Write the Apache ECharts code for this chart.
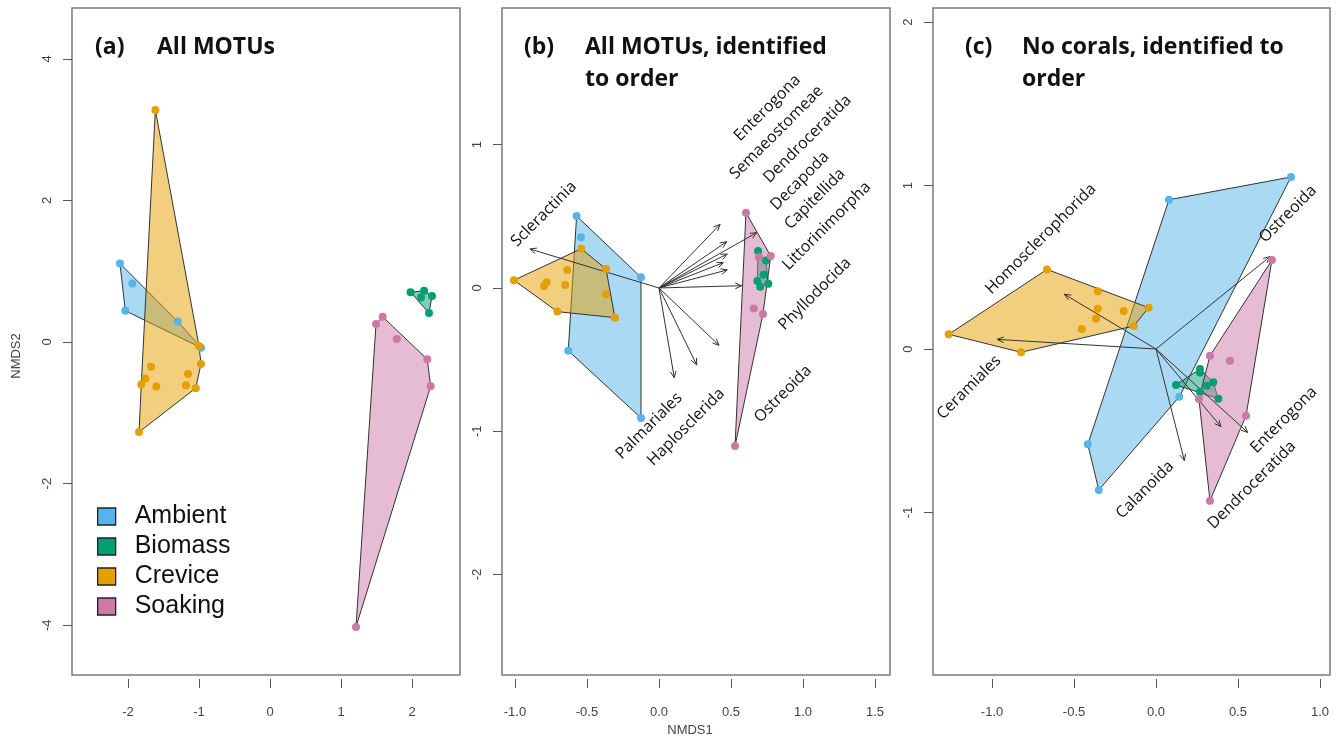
<!DOCTYPE html>
<html>
<head>
<meta charset="utf-8">
<script src="https://cdn.jsdelivr.net/npm/echarts@6/dist/echarts.min.js"></script>
<style>html,body{margin:0;padding:0;background:#fff}#chart{width:1343px;height:740px}</style>
</head>
<body>
<div id="chart"></div>
<script>
// ---------- data ----------
const groups = ['Ambient', 'Biomass', 'Crevice', 'Soaking'];
const groupColors = ['#56B4E9', '#009E73', '#E69F00', '#CC79A7'];

// Panel (a): All MOTUs
const aAmbient = [[-2.113, 1.108], [-1.939, 0.827], [-2.038, 0.441], [-0.972, -0.080], [-1.300, 0.290]];
const aBiomass = [[1.980, 0.704], [2.170, 0.722], [2.127, 0.627], [2.282, 0.648], [2.239, 0.408]];
const aCrevice = [[-1.615, 3.277], [-1.000, -0.056], [-0.972, -0.310], [-1.676, -0.348], [-1.155, -0.451], [-1.756, -0.517], [-1.813, -0.601], [-1.601, -0.630], [-1.183, -0.610], [-1.046, -0.652], [-1.845, -1.272]];
const aSoaking = [[1.587, 0.356], [1.493, 0.254], [1.785, 0.042], [2.215, -0.244], [2.263, -0.624], [1.211, -4.024]];

// Panel (b): All MOTUs, identified to order
const bAmbient = [[-0.572, 0.502], [-0.542, 0.354], [-0.125, 0.075], [-0.630, -0.438], [-0.125, -0.907]];
const bBiomass = [[0.688, 0.258], [0.743, 0.191], [0.727, 0.093], [0.683, 0.049], [0.703, 0.009], [0.759, 0.030]];
const bCrevice = [[-1.007, 0.054], [-0.540, 0.274], [-0.637, 0.126], [-0.368, 0.133], [-0.780, 0.040], [-0.799, 0.014], [-0.651, 0.021], [-0.368, -0.044], [-0.706, -0.165], [-0.306, -0.207]];
const bSoaking = [[0.604, 0.525], [0.776, 0.223], [0.694, 0.214], [0.658, -0.144], [0.722, -0.181], [0.528, -1.103]];
const bArrows = [[-0.896, 0.272], [0.424, 0.444], [0.678, 0.386], [0.470, 0.323], [0.474, 0.237], [0.447, 0.177], [0.474, 0.126], [0.574, 0.016], [0.417, -0.400], [0.262, -0.537], [0.106, -0.626]];
const bLabels = [['Scleractinia', -0.799, 0.516], ['Enterogona', 0.753, 1.256], ['Semaeostomeae', 0.817, 1.085], ['Dendroceratida', 1.031, 1.040], ['Decapoda', 0.979, 0.747], ['Capitellida', 1.083, 0.621], ['Littorinimorpha', 1.165, 0.433], ['Phyllodocida', 1.083, -0.042], ['Ostreoida', 0.861, -0.740], ['Haplosclerida', 0.188, -0.970], ['Palmariales', -0.069, -0.963]];

// Panel (c): No corals, identified to order
const cAmbient = [[0.079, 0.913], [0.823, 1.052], [0.142, -0.292], [-0.349, -0.862], [-0.416, -0.583]];
const cBiomass = [[0.268, -0.122], [0.268, -0.143], [0.122, -0.220], [0.309, -0.224], [0.349, -0.204], [0.380, -0.304], [0.268, -0.263]];
const cCrevice = [[-1.264, 0.090], [-0.665, 0.487], [-0.823, -0.020], [-0.355, 0.353], [-0.355, 0.246], [-0.366, 0.185], [-0.197, 0.232], [-0.453, 0.122], [-0.045, 0.253], [-0.136, 0.141]];
const cSoaking = [[0.707, 0.544], [0.329, -0.041], [0.451, -0.072], [0.262, -0.306], [0.549, -0.408], [0.329, -0.928]];
const cArrows = [[0.695, 0.565], [-0.559, 0.335], [-0.968, 0.059], [0.173, -0.683], [0.396, -0.475], [0.559, -0.510]];
const cLabels = [['Homosclerophorida', -0.702, 0.673], ['Ceramiales', -1.140, -0.235], ['Ostreoida', 0.805, 0.826], ['Calanoida', -0.067, -0.862], ['Enterogona', 0.780, -0.434], ['Dendroceratida', 0.585, -0.832]];

// Axis tick values
const aXTicks = [-2, -1, 0, 1, 2];
const aYTicks = [-4, -2, 0, 2, 4];
const bXTicks = [-1.0, -0.5, 0.0, 0.5, 1.0, 1.5];
const bYTicks = [-2, -1, 0, 1];
const cXTicks = [-1.0, -0.5, 0.0, 0.5, 1.0];
const cYTicks = [-1, 0, 1, 2];

// Panel titles
const panelTags = ['(a)', '(b)', '(c)'];
const panelTitles = ['All MOTUs', 'All MOTUs, identified\nto order', 'No corals, identified to\norder'];

// ---------- helpers ----------
function convexHull(points) {
  const p = points.slice().sort((a, b) => a[0] - b[0] || a[1] - b[1]);
  const cross = (o, a, b) => (a[0] - o[0]) * (b[1] - o[1]) - (a[1] - o[1]) * (b[0] - o[0]);
  const lower = [];
  for (const q of p) { while (lower.length >= 2 && cross(lower[lower.length - 2], lower[lower.length - 1], q) <= 0) lower.pop(); lower.push(q); }
  const upper = [];
  for (let i = p.length - 1; i >= 0; i--) { const q = p[i]; while (upper.length >= 2 && cross(upper[upper.length - 2], upper[upper.length - 1], q) <= 0) upper.pop(); upper.push(q); }
  upper.pop(); lower.pop();
  return lower.concat(upper);
}
function hexA(hex, a) {
  const n = parseInt(hex.slice(1), 16);
  return 'rgba(' + ((n >> 16) & 255) + ',' + ((n >> 8) & 255) + ',' + (n & 255) + ',' + a + ')';
}

const TICK_FONT = '"Liberation Sans Narrow", "Liberation Sans", Arial, sans-serif';
const LABEL_FONT = '"Open Sans", "Noto Sans", sans-serif';

function mkX(gi, min, max, ticks, dec) {
  return {
    type: 'value', gridIndex: gi, min: min, max: max, position: 'bottom', offset: 4,
    axisLine: { show: false, onZero: false }, splitLine: { show: false },
    axisTick: { show: true, length: 9, customValues: ticks, lineStyle: { color: '#555', width: 1 } },
    axisLabel: { customValues: ticks, margin: 27, fontFamily: TICK_FONT, fontSize: 13, color: '#444',
      formatter: v => (+v).toFixed(dec) }
  };
}
function mkY(gi, min, max, ticks) {
  return {
    type: 'value', gridIndex: gi, min: min, max: max, position: 'left', offset: 0,
    axisLine: { show: false, onZero: false }, splitLine: { show: false },
    axisTick: { show: true, length: 9, customValues: ticks, lineStyle: { color: '#555', width: 1 } },
    axisLabel: { customValues: ticks, rotate: 90, margin: 18, fontFamily: TICK_FONT, fontSize: 13, color: '#444',
      formatter: v => String(Math.round(v)) }
  };
}

const series = [];
function addPanel(pi, sets, arrows, labels) {
  sets.forEach((pts, gi) => {
    const hull = convexHull(pts);
    series.push({
      type: 'custom', name: 'hull' + pi + gi, coordinateSystem: 'cartesian2d',
      xAxisIndex: pi, yAxisIndex: pi, z: 2 + gi * 0.01, silent: true,
      data: [hull[0]],
      renderItem: function (params, api) {
        return { type: 'polygon', shape: { points: hull.map(q => api.coord(q)) },
          style: { fill: hexA(groupColors[gi], 0.5), stroke: '#333', lineWidth: 1 } };
      }
    });
  });
  if (arrows) {
    series.push({
      type: 'custom', name: 'arrows' + pi, coordinateSystem: 'cartesian2d',
      xAxisIndex: pi, yAxisIndex: pi, z: 4, silent: true, data: arrows,
      renderItem: function (params, api) {
        const p0 = api.coord([0, 0]);
        const p1 = api.coord([api.value(0), api.value(1)]);
        const ang = Math.atan2(p1[1] - p0[1], p1[0] - p0[0]);
        const L = 7, s = 0.42;
        const h1 = [p1[0] - L * Math.cos(ang - s), p1[1] - L * Math.sin(ang - s)];
        const h2 = [p1[0] - L * Math.cos(ang + s), p1[1] - L * Math.sin(ang + s)];
        return { type: 'group', children: [
          { type: 'line', shape: { x1: p0[0], y1: p0[1], x2: p1[0], y2: p1[1] }, style: { stroke: '#333', lineWidth: 1 } },
          { type: 'polyline', shape: { points: [h1, p1, h2] }, style: { stroke: '#333', lineWidth: 1, fill: null } }
        ] };
      }
    });
  }
  sets.forEach((pts, gi) => {
    series.push({
      type: 'scatter', name: groups[gi], xAxisIndex: pi, yAxisIndex: pi, z: 5,
      symbol: 'circle', symbolSize: 8, data: pts, silent: true,
      itemStyle: { color: groupColors[gi], opacity: 1 }
    });
  });
  if (labels) {
    series.push({
      type: 'custom', name: 'labels' + pi, coordinateSystem: 'cartesian2d',
      xAxisIndex: pi, yAxisIndex: pi, z: 6, silent: true,
      data: labels.map(l => [l[1], l[2]]),
      renderItem: function (params, api) {
        const p = api.coord([api.value(0), api.value(1)]);
        return { type: 'text', x: p[0], y: p[1], rotation: Math.PI / 4,
          style: { text: labels[params.dataIndex][0], fill: '#111', font: '16px ' + LABEL_FONT,
            align: 'center', verticalAlign: 'middle' } };
      }
    });
  }
}
addPanel(0, [aAmbient, aBiomass, aCrevice, aSoaking], null, null);
addPanel(1, [bAmbient, bBiomass, bCrevice, bSoaking], bArrows, bLabels);
addPanel(2, [cAmbient, cBiomass, cCrevice, cSoaking], cArrows, cLabels);

const gridBase = { top: 8, height: 667, show: true, borderColor: '#7a7a7a', borderWidth: 1.5, backgroundColor: 'transparent' };
const titleStyle = { fontFamily: LABEL_FONT, fontWeight: 'bold', fontSize: 23, color: '#111', lineHeight: 32 };

const option = {
  animation: false,
  backgroundColor: '#ffffff',
  title: [
    { text: panelTags[0], left: 90, top: 26, textStyle: titleStyle },
    { text: panelTitles[0], left: 152, top: 26, textStyle: titleStyle },
    { text: panelTags[1], left: 519, top: 26, textStyle: titleStyle },
    { text: panelTitles[1], left: 580, top: 26, textStyle: titleStyle },
    { text: panelTags[2], left: 960, top: 26, textStyle: titleStyle },
    { text: panelTitles[2], left: 1017, top: 26, textStyle: titleStyle }
  ],
  legend: {
    orient: 'vertical', left: 92, top: 499, itemWidth: 18, itemHeight: 17, itemGap: 5,
    icon: 'rect', data: groups, selectedMode: false,
    textStyle: { fontFamily: '"Liberation Sans", Arial, sans-serif', fontSize: 25, color: '#111', padding: [0, 0, 0, 14] },
    itemStyle: { borderColor: '#222', borderWidth: 1.3 }
  },
  grid: [
    Object.assign({ left: 72, width: 388 }, gridBase),
    Object.assign({ left: 502, width: 388 }, gridBase),
    Object.assign({ left: 933, width: 397 }, gridBase)
  ],
  xAxis: [
    mkX(0, -2.789, 2.676, aXTicks, 0),
    mkX(1, -1.090, 1.604, bXTicks, 1),
    mkX(2, -1.360, 1.061, cXTicks, 1)
  ],
  yAxis: [
    mkY(0, -4.703, 4.717, aYTicks),
    mkY(1, -2.701, 1.954, bYTicks),
    mkY(2, -1.994, 2.086, cYTicks)
  ],
  graphic: [
    { type: 'text', x: 690, y: 730, style: { text: 'NMDS1', font: '13px ' + TICK_FONT, fill: '#444', align: 'center', verticalAlign: 'middle' } },
    { type: 'text', x: 16, y: 356, rotation: Math.PI / 2, style: { text: 'NMDS2', font: '13px ' + TICK_FONT, fill: '#444', align: 'center', verticalAlign: 'middle' } }
  ],
  series: series
};

const chart = echarts.init(document.getElementById('chart'), null, { renderer: 'canvas' });
chart.setOption(option);
</script>
</body>
</html>
